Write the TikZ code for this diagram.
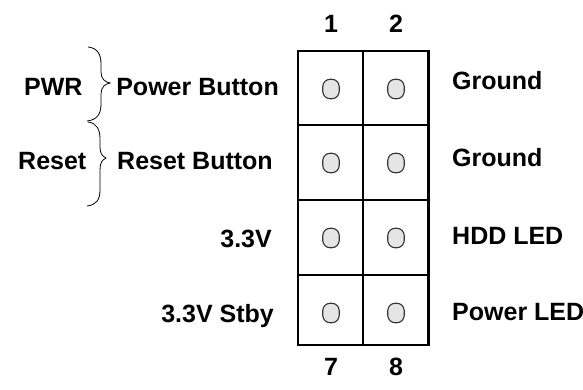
\documentclass[tikz,border=0pt]{standalone}
\usepackage{fontspec}
\setmainfont{Liberation Sans}
\begin{document}
\begin{tikzpicture}[x=1pt,y=-1pt,
  lbl/.style={font=\fontsize{25}{29}\bfseries\selectfont, inner sep=0pt},
  pin/.style={rectangle, rounded corners=7.5pt, draw=black!80, line width=1.1pt, fill=black!10, minimum width=16.5pt, minimum height=19.5pt, inner sep=0pt},
  cellline/.style={line width=2.2pt},
  bracel/.style={line width=0.8pt}]
\useasboundingbox (0,0) rectangle (583,390);
% grid
\draw[line width=2.6pt] (298,51) rectangle (428.5,345);
\draw[cellline] (363,51) -- (363,345);
\draw[cellline] (298,125) -- (428.5,125);
\draw[cellline] (298,200) -- (428.5,200);
\draw[cellline] (298,275) -- (428.5,275);
% pins
\node[pin] (p1) at (331,89) {};
\node[pin] (p2) at (396,89) {};
\node[pin] (p3) at (331,163) {};
\node[pin] (p4) at (396,163) {};
\node[pin] (p5) at (331,238) {};
\node[pin] (p6) at (396,238) {};
\node[pin] (p7) at (331,313) {};
\node[pin] (p8) at (396,313) {};
% numbers
\node[lbl, anchor=base] (n1) at (331,33) {1};
\node[lbl, anchor=base] (n2) at (396,33) {2};
\node[lbl, anchor=base] (n7) at (331,375) {7};
\node[lbl, anchor=base] (n8) at (396,375) {8};
% left labels
\node[lbl, anchor=base east] (l1) at (279,96) {Power Button};
\node[lbl, anchor=base east] (l2) at (273,170) {Reset Button};
\node[lbl, anchor=base east] (l3) at (272,247) {3.3V};
\node[lbl, anchor=base east] (l4) at (274,322) {3.3V Stby};
% right labels
\node[lbl, anchor=base west] (r1) at (452,90) {Ground};
\node[lbl, anchor=base west] (r2) at (452,167) {Ground};
\node[lbl, anchor=base west] (r3) at (452,244) {HDD LED};
\node[lbl, anchor=base west] (r4) at (452,320) {Power LED};
% group labels
\node[lbl, anchor=base west] (g1) at (24,96) {PWR};
\node[lbl, anchor=base west] (g2) at (18,170) {Reset};
% braces
\draw[bracel] (88,47) .. controls (98,48) and (101,55) .. (101,64) -- (101,72)
  .. controls (101,79) and (105,82) .. (110,83)
  .. controls (105,84) and (101,87) .. (101,94) -- (101,104)
  .. controls (101,114) and (97,120) .. (87,121);
\draw[bracel] (88,122) .. controls (97,123) and (100,130) .. (100,139) -- (100,147)
  .. controls (100,153) and (102,156) .. (106,158)
  .. controls (102,160) and (100,163) .. (100,170) -- (100,190)
  .. controls (100,200) and (96,205) .. (87,206);
\end{tikzpicture}
\end{document}
